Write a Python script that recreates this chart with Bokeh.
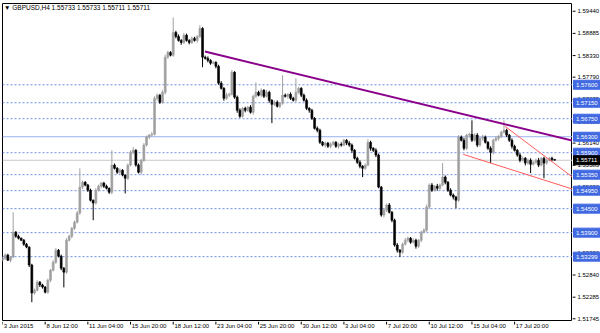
from bokeh.plotting import figure
from bokeh.models import Span, Range1d
from bokeh.layouts import row, column
from bokeh.core.properties import value
from bokeh.embed import file_html
from bokeh.resources import INLINE

# ---- data (GBPUSD H4 candles) ----
first_open = 1.5321
closes = [
    1.5326, 1.5334, 1.5321, 1.5329, 1.5391, 1.5381, 1.5376, 1.5371, 1.5361, 1.5354, 1.5309, 1.5239, 1.5246, 1.5266, 1.5259, 1.5254,
    1.5241, 1.5271, 1.5296, 1.5316, 1.5346, 1.5331, 1.5301, 1.5291, 1.5371, 1.5381, 1.5401, 1.5416, 1.5439, 1.5504, 1.5516, 1.5509,
    1.5496, 1.5471, 1.5464, 1.5496, 1.5506, 1.5514, 1.5506, 1.5501, 1.5491, 1.5559, 1.5551, 1.5541, 1.5546, 1.5534, 1.5526, 1.5559,
    1.5591, 1.5596, 1.5559, 1.5541, 1.5571, 1.5609, 1.5629, 1.5634, 1.5636, 1.5726, 1.5734, 1.5716, 1.5741, 1.5829, 1.5841, 1.5834,
    1.5891, 1.5881, 1.5871, 1.5866, 1.5884, 1.5871, 1.5866, 1.5876, 1.5871, 1.5881, 1.5901, 1.5829, 1.5826, 1.5821, 1.5814, 1.5816,
    1.5806, 1.5764, 1.5751, 1.5726, 1.5734, 1.5736, 1.5791, 1.5729, 1.5696, 1.5681, 1.5701, 1.5696, 1.5704, 1.5691, 1.5731, 1.5741,
    1.5734, 1.5746, 1.5731, 1.5741, 1.5721, 1.5711, 1.5716, 1.5706, 1.5714, 1.5734, 1.5731, 1.5736, 1.5726, 1.5721, 1.5741, 1.5751,
    1.5734, 1.5721, 1.5701, 1.5696, 1.5676, 1.5651, 1.5646, 1.5616, 1.5609, 1.5614, 1.5606, 1.5611, 1.5616, 1.5606, 1.5611, 1.5609,
    1.5621, 1.5614, 1.5609, 1.5596, 1.5576, 1.5566, 1.5556, 1.5551, 1.5559, 1.5616, 1.5601, 1.5596, 1.5584, 1.5504, 1.5434, 1.5446,
    1.5459, 1.5441, 1.5421, 1.5359, 1.5346, 1.5341, 1.5361, 1.5371, 1.5376, 1.5366, 1.5371, 1.5356, 1.5371, 1.5391, 1.5396, 1.5454,
    1.5509, 1.5496, 1.5506, 1.5501, 1.5509, 1.5529, 1.5516, 1.5496, 1.5484, 1.5479, 1.5471, 1.5629, 1.5621, 1.5601, 1.5634, 1.5636,
    1.5621, 1.5634, 1.5609, 1.5626, 1.5629, 1.5616, 1.5601, 1.5591, 1.5621, 1.5626, 1.5631, 1.5641, 1.5646, 1.5634, 1.5621, 1.5606,
    1.5596, 1.5584, 1.5571, 1.5576, 1.5564, 1.5571, 1.5561, 1.5566, 1.5571, 1.5559, 1.5576, 1.5564, 1.5571, 1.5576, 1.55733, 1.55711,
]
up_wick_pips = [
    3, 4, 3, 2, 50, 3, 4, 2, 3, 3, 2, 3, 4, 5, 3, 3,
    2, 4, 3, 5, 6, 3, 4, 3, 5, 4, 3, 4, 5, 47, 4, 3,
    3, 4, 2, 5, 4, 3, 3, 4, 2, 37, 4, 3, 5, 3, 2, 4,
    5, 8, 3, 4, 3, 5, 4, 3, 6, 5, 4, 3, 5, 6, 4, 3,
    37, 4, 5, 3, 6, 4, 3, 5, 4, 3, 8, 3, 4, 5, 3, 4,
    3, 4, 5, 3, 6, 4, 6, 3, 4, 5, 3, 4, 3, 5, 4, 25,
    4, 5, 3, 6, 4, 3, 4, 5, 3, 50, 4, 3, 5, 4, 35, 4,
    3, 4, 5, 3, 4, 3, 5, 4, 3, 4, 3, 5, 4, 3, 4, 5,
    4, 3, 5, 4, 3, 4, 5, 3, 4, 8, 4, 3, 5, 4, 3, 6,
    4, 5, 3, 4, 5, 3, 4, 6, 4, 3, 5, 4, 3, 4, 5, 6,
    4, 5, 3, 6, 4, 35, 4, 3, 5, 4, 3, 5, 4, 6, 3, 4,
    35, 4, 5, 3, 6, 4, 3, 5, 4, 6, 3, 4, 25, 4, 3, 5,
    4, 3, 5, 4, 3, 4, 5, 3, 4, 6, 3, 4, 5, 3, 4, 0,
]
down_wick_pips = [
    3, 4, 2, 5, 3, 4, 3, 2, 4, 3, 5, 23, 4, 3, 5, 4,
    3, 4, 5, 3, 4, 3, 5, 38, 4, 3, 5, 4, 3, 4, 5, 3,
    4, 3, 43, 4, 3, 5, 4, 3, 4, 5, 3, 4, 5, 3, 38, 4,
    3, 5, 4, 3, 6, 4, 3, 5, 4, 3, 6, 4, 3, 5, 4, 3,
    4, 5, 3, 6, 4, 3, 5, 4, 3, 6, 4, 25, 3, 5, 4, 3,
    5, 4, 3, 6, 4, 5, 3, 4, 6, 4, 3, 5, 4, 3, 6, 4,
    3, 5, 4, 3, 6, 47, 4, 3, 5, 4, 3, 6, 4, 3, 5, 4,
    5, 3, 4, 6, 4, 3, 5, 4, 3, 6, 4, 5, 3, 4, 6, 4,
    3, 5, 4, 6, 3, 4, 5, 22, 4, 3, 6, 4, 5, 3, 4, 6,
    4, 3, 5, 4, 6, 12, 4, 3, 5, 4, 3, 6, 4, 5, 3, 4,
    5, 4, 3, 6, 4, 3, 5, 4, 3, 6, 20, 4, 3, 5, 4, 6,
    4, 3, 5, 4, 6, 3, 4, 27, 5, 3, 6, 4, 3, 5, 4, 6,
    3, 4, 5, 3, 6, 4, 22, 3, 4, 5, 3, 38, 4, 3, 5, 0,
]

x_tick_bars = [0, 16, 32, 48, 64, 80, 96, 112, 128, 144, 160, 176, 192]
x_tick_labels = ["3 Jun 2015", "8 Jun 12:00", "11 Jun 04:00", "15 Jun 20:00", "18 Jun 12:00",
                 "23 Jun 04:00", "25 Jun 20:00", "30 Jun 12:00", "3 Jul 04:00", "7 Jul 20:00",
                 "10 Jul 12:00", "15 Jul 04:00", "17 Jul 20:00"]
y_ticks = [1.59440, 1.58885, 1.58330, 1.57790, 1.57235, 1.56680, 1.56140, 1.55585,
           1.55030, 1.54490, 1.53935, 1.53380, 1.52840, 1.52285, 1.51745]
dotted_levels = [1.57600, 1.57150, 1.56750, 1.55900, 1.55350, 1.54950, 1.54500, 1.53900, 1.53299]
solid_levels = [1.56300]
bid_price = 1.55711
title_text = "\u25bc GBPUSD,H4  1.55733 1.55733 1.55711 1.55711"

purple_x = [75.9, 213.7]
purple_y = [1.5843, 1.5620]
red_upper_x = [188.4, 213.7]
red_upper_y = [1.5656, 1.5529]
red_lower_x = [172.7, 213.7]
red_lower_y = [1.5586, 1.5499]

# ---- derived OHLC ----
n = len(closes)
opens = [first_open] + closes[:-1]
highs = [max(o, c) + u * 0.0001 for o, c, u in zip(opens, closes, up_wick_pips)]
lows = [min(o, c) - d * 0.0001 for o, c, d in zip(opens, closes, down_wick_pips)]
xs = list(range(n))

BULL = "#A0A0A0"
BEAR = "#000000"
colors = [BULL if c >= o else BEAR for o, c in zip(opens, closes)]

FONT = "Liberation Sans"
X0, X1 = 0.0, 213.7
Y0, Y1 = 1.51677, 1.59633
PX_Y = (Y1 - Y0) / 318.0
PX_X = (X1 - X0) / 570.0

# ---- main chart (frame 2..572 x 3..321) ----
p = figure(width=572, height=321, x_range=Range1d(X0, X1), y_range=Range1d(Y0, Y1),
           x_axis_location=None, y_axis_location=None,
           toolbar_location=None, output_backend="svg",
           min_border_left=2, min_border_right=0, min_border_top=3, min_border_bottom=0)
p.background_fill_color = "white"
p.border_fill_color = "white"
p.outline_line_color = "black"
p.outline_line_width = 1
p.xgrid.visible = False
p.ygrid.visible = False

for lv in dotted_levels:
    p.add_layout(Span(location=lv, dimension="width", line_color="#6F8FE8",
                      line_dash="2 2", line_width=1, level="underlay"))
for lv in solid_levels:
    p.add_layout(Span(location=lv, dimension="width", line_color="#9CB2F0",
                      line_width=1, level="underlay"))
p.add_layout(Span(location=bid_price, dimension="width", line_color="#C8C8C8",
                  line_width=1, level="underlay"))

p.segment(x0=xs, y0=highs, x1=xs, y1=lows, line_color=colors, line_width=1)
p.vbar(x=xs, width=0.72, top=[max(o, c) for o, c in zip(opens, closes)],
       bottom=[min(o, c) for o, c in zip(opens, closes)],
       fill_color=colors, line_color=colors, line_width=0.6)

p.line(purple_x, purple_y, line_color="#8B008B", line_width=2)
p.line(red_upper_x, red_upper_y, line_color="#FF5A5A", line_width=1)
p.line(red_lower_x, red_lower_y, line_color="#FF5A5A", line_width=1)

p.text(x=[X0 + 1.5 * PX_X], y=[Y1 - 4.0 * PX_Y], text=[title_text],
       text_font=value(FONT), text_font_size="6.5px", text_color="black",
       text_baseline="middle", text_align="left")

# ---- bottom time scale (shares the x scale) ----
b = figure(width=572, height=12, x_range=p.x_range, y_range=Range1d(0, 12),
           x_axis_location=None, y_axis_location=None,
           toolbar_location=None, output_backend="svg",
           min_border_left=2, min_border_right=0, min_border_top=0, min_border_bottom=0)
b.outline_line_color = None
b.background_fill_color = "white"
b.border_fill_color = "white"
b.xgrid.visible = False
b.ygrid.visible = False
b.segment(x0=x_tick_bars, y0=[12] * len(x_tick_bars), x1=x_tick_bars,
          y1=[9] * len(x_tick_bars), line_color="black", line_width=1)
b.text(x=[t + 1.2 * PX_X for t in x_tick_bars], y=[11.0] * len(x_tick_bars), text=x_tick_labels,
       text_font=value(FONT), text_font_size="6px", text_color="black",
       text_baseline="top", text_align="left")

# ---- right price scale (same price-per-pixel, frame 0..333) ----
r = figure(width=28, height=333, x_range=Range1d(0, 28),
           y_range=Range1d(Y0 - 12 * PX_Y, Y1 + 3 * PX_Y),
           x_axis_location=None, y_axis_location=None,
           toolbar_location=None, output_backend="svg",
           min_border_left=0, min_border_right=0, min_border_top=0, min_border_bottom=0)
r.outline_line_color = None
r.background_fill_color = "white"
r.border_fill_color = "white"
r.xgrid.visible = False
r.ygrid.visible = False
r.segment(x0=[0] * len(y_ticks), y0=y_ticks, x1=[3] * len(y_ticks), y1=y_ticks,
          line_color="black", line_width=1)
r.text(x=[5] * len(y_ticks), y=y_ticks, text=["%.5f" % v for v in y_ticks],
       text_font=value(FONT), text_font_size="6px", text_color="black",
       text_baseline="middle", text_align="left")

box_levels = dotted_levels + solid_levels
r.rect(x=[14.5] * len(box_levels), y=box_levels, width=27, height=9, height_units="screen",
       fill_color="#4169E1", line_color="#4169E1")
r.text(x=[3.5] * len(box_levels), y=box_levels, text=["%.5f" % v for v in box_levels],
       text_font=value(FONT), text_font_size="6px", text_color="white",
       text_baseline="middle", text_align="left")
r.rect(x=[14.5], y=[bid_price], width=27, height=9, height_units="screen",
       fill_color="black", line_color="black")
r.text(x=[3.5], y=[bid_price], text=["%.5f" % bid_price],
       text_font=value(FONT), text_font_size="6px", text_color="white",
       text_baseline="middle", text_align="left")

layout = row(column(p, b), r)
open("out.html", "w").write(file_html(layout, INLINE))
